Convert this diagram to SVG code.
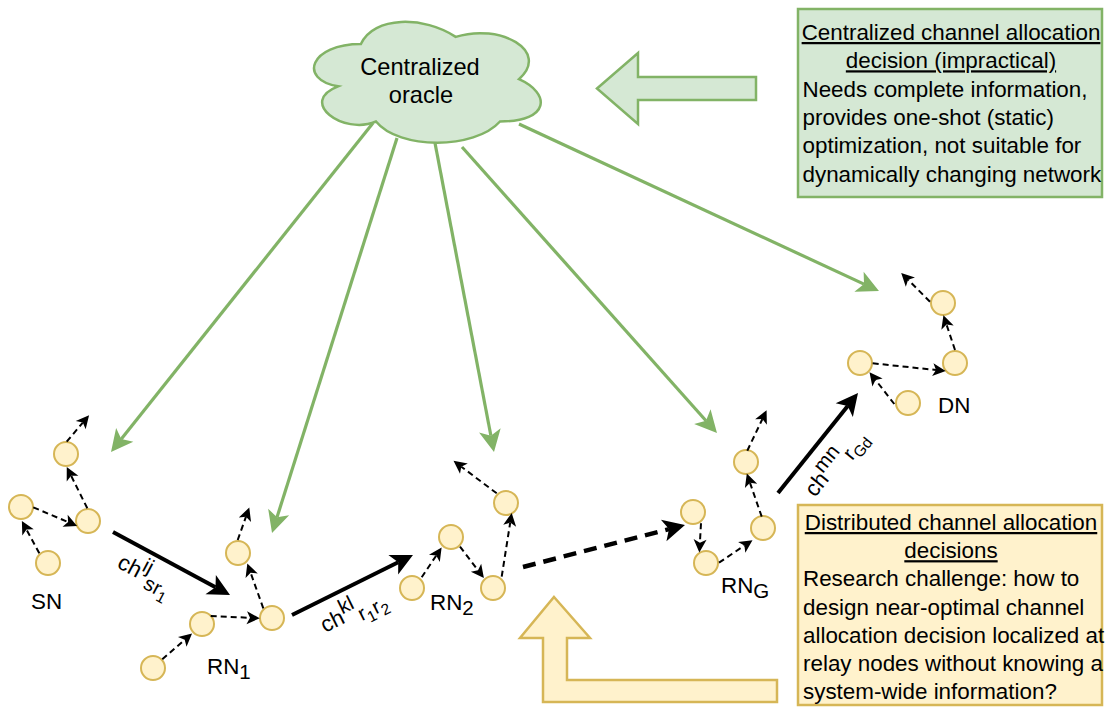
<svg xmlns="http://www.w3.org/2000/svg" width="1109" height="707" viewBox="0 0 1109 707">
  <style>
    text { font-family: "Liberation Sans", Arial, sans-serif; fill: #000; }
    .t22 { font-size: 22.4px; }
    .t24 { font-size: 23.6px; }
    .u { text-decoration: underline; }
    .mid { text-anchor: middle; }
    .sup, .sub { font-size: 20.5px; }
    .sub2 { font-size: 15.5px; }
    .dev { fill: #fff2cc; stroke: #d6b656; stroke-width: 2; }
    .green-box { fill: #d5e8d4; stroke: #82b366; stroke-width: 2.5; }
    .yellow-box { fill: #fff2cc; stroke: #d6b656; stroke-width: 2.5; }
    .green-link { fill: none; stroke: #82b366; stroke-width: 3.2; marker-end: url(#head-green); }
    .hop { fill: none; stroke: #000; stroke-width: 2; stroke-dasharray: 6 4; marker-end: url(#head-sm); }
    .chan { fill: none; stroke: #000; stroke-width: 4; marker-end: url(#head-lg); }
    .chan-dash { fill: none; stroke: #000; stroke-width: 4.5; stroke-dasharray: 13 8; marker-end: url(#head-lg); }
  </style>
  <defs>
    <marker id="head-lg" markerUnits="userSpaceOnUse" viewBox="-6 -12 24 24" markerWidth="24" markerHeight="24" refX="0" refY="0" orient="auto">
      <path d="M16.5,0 L-5.5,-11 L0,0 L-5.5,11 Z" fill="#000"/>
    </marker>
    <marker id="head-green" markerUnits="userSpaceOnUse" viewBox="-6 -12 24 24" markerWidth="24" markerHeight="24" refX="0" refY="0" orient="auto">
      <path d="M16.5,0 L-5.5,-11 L0,0 L-5.5,11 Z" fill="#82b366"/>
    </marker>
    <marker id="head-sm" markerUnits="userSpaceOnUse" viewBox="-4 -7 15 14" markerWidth="15" markerHeight="14" refX="0" refY="0" orient="auto">
      <path d="M9.75,0 L-3.25,-6.5 L0,0 L-3.25,6.5 Z" fill="#000"/>
    </marker>
  </defs>

  <rect width="1109" height="707" fill="#fff"/>

  <!-- centralized oracle cloud -->
  <g id="oracle">
    <path class="green-box" stroke-width="2" d="M360.9,44 C310.3,44 297.6,79.2 338.1,86.3 C297.6,101.8 343.1,135.6 376,121.5 C398.8,149.7 474.7,149.7 500,121.5 C550.6,121.5 550.6,93.3 519,79.2 C550.6,51 500,22.8 455.7,36.9 C424.1,15.8 373.5,15.8 360.9,44 Z"/>
    <text class="t24 mid" x="420" y="75">Centralized</text>
    <text class="t24 mid" x="421" y="103">oracle</text>
  </g>

  <!-- centralized decision note -->
  <g id="box-central">
    <rect class="green-box" x="798" y="9" width="304" height="188"/>
    <text class="t22 mid u" x="951" y="40">Centralized channel allocation</text>
    <text class="t22 mid u" x="951" y="68.3">decision (impractical)</text>
    <text class="t22" x="802.5" y="96.6">Needs complete information,</text>
    <text class="t22" x="802.5" y="124.9">provides one-shot (static)</text>
    <text class="t22" x="802.5" y="153.2">optimization, not suitable for</text>
    <text class="t22" x="802.5" y="181.5">dynamically changing network</text>
  </g>

  <!-- distributed decision note -->
  <g id="box-distributed">
    <rect class="yellow-box" x="798" y="505" width="304" height="200"/>
    <text class="t22 mid u" x="951" y="530">Distributed channel allocation</text>
    <text class="t22 mid u" x="951" y="558.2">decisions</text>
    <text class="t22" x="803" y="586.4">Research challenge: how to</text>
    <text class="t22" x="803" y="614.6">design near-optimal channel</text>
    <text class="t22" x="803" y="642.8">allocation decision localized at</text>
    <text class="t22" x="803" y="671">relay nodes without knowing a</text>
    <text class="t22" x="803" y="699.2">system-wide information?</text>
  </g>

  <!-- block arrows pointing from the notes -->
  <g id="pointer-central">
    <polygon class="green-box" stroke-width="3.2" points="597,88.5 638,53 638,77 756,77 756,100 638,100 638,124"/>
  </g>
  <g id="pointer-distributed">
    <polygon class="yellow-box" stroke-width="3.2" points="554,597 590,638 567,638 567,680 777,680 777,702 543,702 543,638 520,638"/>
  </g>

  <!-- node clusters -->
  <g id="sn">
    <circle class="dev" cx="66" cy="454" r="12"/>
    <circle class="dev" cx="21" cy="507" r="12"/>
    <circle class="dev" cx="88" cy="521" r="12"/>
    <circle class="dev" cx="48" cy="563" r="12"/>
    <text class="t22" x="31" y="609">SN</text>
  </g>
  <g id="rn1">
    <circle class="dev" cx="238" cy="553" r="12"/>
    <circle class="dev" cx="202" cy="624" r="12"/>
    <circle class="dev" cx="272" cy="618" r="12"/>
    <circle class="dev" cx="153" cy="668" r="12"/>
    <text class="t22" x="207" y="674">RN<tspan class="sub" dy="5">1</tspan></text>
  </g>
  <g id="rn2">
    <circle class="dev" cx="506" cy="503" r="12"/>
    <circle class="dev" cx="451" cy="537" r="12"/>
    <circle class="dev" cx="493" cy="588" r="12"/>
    <circle class="dev" cx="412" cy="588" r="12"/>
    <text class="t22" x="430" y="610">RN<tspan class="sub" dy="5">2</tspan></text>
  </g>
  <g id="rng">
    <circle class="dev" cx="693" cy="512" r="12"/>
    <circle class="dev" cx="706" cy="563" r="12"/>
    <circle class="dev" cx="763" cy="528" r="12"/>
    <circle class="dev" cx="746" cy="462" r="12"/>
    <text class="t22" x="721" y="593">RN<tspan class="sub" dy="5">G</tspan></text>
  </g>
  <g id="dn">
    <circle class="dev" cx="860" cy="363" r="12"/>
    <circle class="dev" cx="955" cy="363" r="12"/>
    <circle class="dev" cx="943" cy="303" r="12"/>
    <circle class="dev" cx="908" cy="403" r="12"/>
    <text class="t22" x="938" y="413">DN</text>
  </g>

  <g id="connectors">
    <!-- oracle to every cluster -->
    <line class="green-link" x1="373" y1="123" x2="121.3" y2="439.1"/>
    <line class="green-link" x1="397" y1="138" x2="277" y2="517.3"/>
    <line class="green-link" x1="435" y1="143" x2="490.9" y2="435.8"/>
    <line class="green-link" x1="462" y1="147" x2="706" y2="420.7"/>
    <line class="green-link" x1="519" y1="124" x2="864" y2="284.1"/>

    <!-- hops inside SN -->
    <line class="hop" x1="39.3" y1="553.3" x2="26.5" y2="529.5"/>
    <line class="hop" x1="33.3" y1="507.3" x2="68.1" y2="522.1"/>
    <line class="hop" x1="87.3" y1="508.3" x2="71.1" y2="475.7"/>
    <line class="hop" x1="66.7" y1="441.7" x2="82.8" y2="422.6"/>
    <!-- hops inside RN1 -->
    <line class="hop" x1="162.3" y1="659.3" x2="184.7" y2="639.8"/>
    <line class="hop" x1="210.7" y1="616" x2="250" y2="617.8"/>
    <line class="hop" x1="263.3" y1="608.3" x2="250.6" y2="572.7"/>
    <line class="hop" x1="237.7" y1="540" x2="246" y2="516.7"/>
    <!-- hops inside RN2 -->
    <line class="hop" x1="421.7" y1="577.3" x2="436.2" y2="555.6"/>
    <line class="hop" x1="460" y1="546.7" x2="478" y2="570.3"/>
    <line class="hop" x1="501.7" y1="576.7" x2="510.2" y2="522.6"/>
    <line class="hop" x1="496.7" y1="493.3" x2="461.3" y2="466.7"/>
    <!-- hops inside RN_G -->
    <line class="hop" x1="701" y1="523.3" x2="699.9" y2="542.7"/>
    <line class="hop" x1="719" y1="562.7" x2="744.4" y2="545.6"/>
    <line class="hop" x1="761.7" y1="516.7" x2="750" y2="482.8"/>
    <line class="hop" x1="747.3" y1="450.7" x2="762.4" y2="419"/>
    <!-- hops inside DN -->
    <line class="hop" x1="894.3" y1="404" x2="875.5" y2="379.9"/>
    <line class="hop" x1="872.7" y1="363.3" x2="936" y2="370"/>
    <line class="hop" x1="955" y1="350" x2="946.5" y2="324.5"/>
    <line class="hop" x1="930" y1="301.7" x2="908.1" y2="279.8"/>

    <!-- channels between clusters -->
    <line class="chan" x1="113" y1="532" x2="215.5" y2="587.2"/>
    <line class="chan" x1="292" y1="615" x2="398.2" y2="562.3"/>
    <line class="chan-dash" x1="523" y1="567" x2="669" y2="529.1"/>
    <line class="chan" x1="778" y1="493" x2="847.7" y2="405.9"/>

    <text class="t22" transform="translate(116,567) rotate(28)">ch<tspan class="sup" dy="-9">ij</tspan><tspan class="sub" dy="15">sr</tspan><tspan class="sub2" dy="5">1</tspan></text>
    <text class="t22" transform="translate(325,633) rotate(-26.4)">ch<tspan class="sup" dy="-9">kl</tspan><tspan class="sub" dy="15">r</tspan><tspan class="sub2" dy="5">1</tspan><tspan class="sub" dy="-5">r</tspan><tspan class="sub2" dy="5">2</tspan></text>
    <text class="t22" transform="translate(815,498) rotate(-51.3)">ch<tspan class="sup" dy="-9">mn</tspan><tspan class="sub" dy="15">r</tspan><tspan class="sub2" dy="5">Gd</tspan></text>
  </g>
</svg>
